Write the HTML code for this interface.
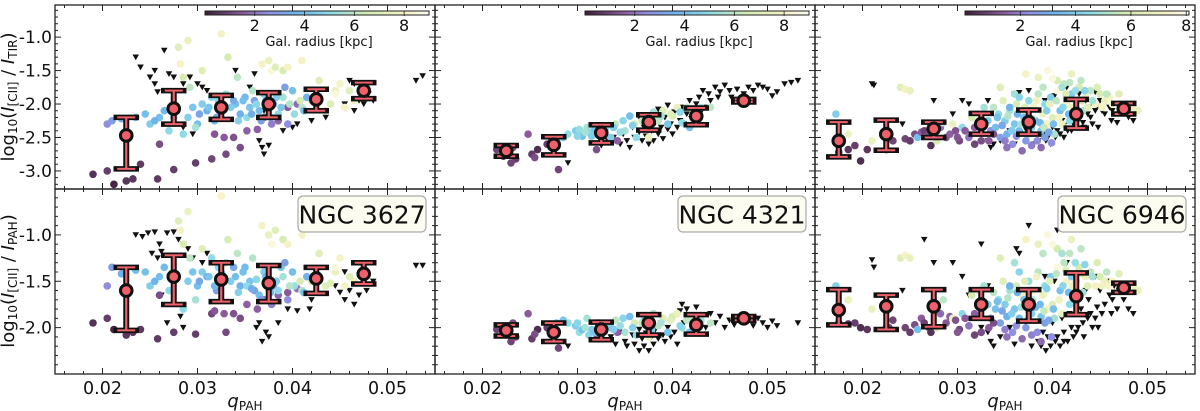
<!DOCTYPE html>
<html><head><meta charset="utf-8"><title>CII deficit vs qPAH</title>
<style>
html,body{margin:0;padding:0;background:#fff;}
svg{display:block;font-family:"DejaVu Sans","Liberation Sans",sans-serif;}
</style></head>
<body>
<svg id="chart" width="1200" height="411" viewBox="0 0 1200 411" xmlns="http://www.w3.org/2000/svg">
<defs>
<linearGradient id="cmap" x1="0" x2="1" y1="0" y2="0">
<stop offset="0" stop-color="#3b1e35"/><stop offset="0.17" stop-color="#8a5a9a"/><stop offset="0.28" stop-color="#8f8ee0"/><stop offset="0.4" stop-color="#6cb4ec"/><stop offset="0.56" stop-color="#8edbe8"/><stop offset="0.72" stop-color="#d6ecb2"/><stop offset="0.89" stop-color="#f5f2c6"/><stop offset="1" stop-color="#fcfbf2"/>
</linearGradient>
</defs>
</svg>
<script>
// ---------- data ----------
const binX=[0.0225,0.0275,0.0325,0.0375,0.0425,0.0475];
const binX3=[0.0175,0.0225,0.0275,0.0325,0.0375,0.0425,0.0475];
const yTicksTop=[-1.0,-1.5,-2.0,-2.5,-3.0];
const yTicksBot=[-1.0,-1.5,-2.0];
const xTicks=[0.02,0.03,0.04,0.05];
const cbTicks=[2,4,6,8];
const galaxies=["NGC 3627","NGC 4321","NGC 6946"];

// NGC 3627 dots: x, radius, y(TIR), y(PAH)
const g1x=[0.0190,0.0205,0.0212,0.0225,0.0232,0.0240,0.0258,0.0275,0.0260,0.0298,0.0315,0.0330,0.0328,0.0318,0.0345,0.0363,0.0370,0.0385,0.0395,0.0405,0.0205,0.0210,0.0220,0.0235,0.0245,0.0250,0.0260,0.0265,0.0270,0.0285,0.0290,0.0300,0.0305,0.0310,0.0315,0.0320,0.0330,0.0340,0.0345,0.0350,0.0355,0.0360,0.0365,0.0370,0.0380,0.0385,0.0390,0.0395,0.0400,0.0410,0.0420,0.0415,0.0435,0.0445,0.0460,0.0465,0.0290,0.0280,0.0285,0.0282,0.0305,0.0325,0.0332,0.0342,0.0368,0.0375,0.0378,0.0382,0.0390,0.0395,0.0410,0.0428,0.0450,0.0445,0.0455,0.0335,0.0352,0.0372,0.0388,0.0402,0.0392,0.0358,0.0322,0.0298,0.0292,
 0.0312,0.0318,0.0326,0.0338,0.0343,0.0348,0.0357,0.0362,0.0367,0.0374,0.0377,0.0383,0.0397,0.0408,0.0412,0.0425,0.0440,0.0302,0.0295,0.0275,0.0255,0.0338,0.0352,0.0378];
const g1r=[0.5,0.8,0.2,0.6,0.6,0.7,0.7,0.8,1.2,0.8,1.0,1.1,1.5,1.4,1.2,1.6,1.8,1.7,1.5,1.9,2.5,3.0,3.5,4.0,4.0,4.5,4.0,3.8,5.0,5.0,4.5,4.0,4.5,3.5,5.0,3.0,5.5,4.0,3.5,3.8,4.2,3.0,4.0,4.5,3.2,5.0,5.5,2.5,4.0,6.0,6.5,3.5,7.0,7.5,7.0,7.5,7.5,7.0,6.5,8.0,7.0,8.0,6.5,6.0,8.0,7.5,8.5,7.0,6.5,8.0,8.0,7.0,8.0,8.5,8.0,4.5,5.0,3.6,4.2,5.2,3.0,5.8,4.8,5.5,6.0,
 4.2,3.8,5.0,3.3,4.6,4.0,3.4,4.8,3.0,5.2,3.8,4.5,5.8,6.5,4.0,6.0,6.8,3.2,4.2,4.6,3.6,1.3,1.6,2.2];
const g1yT=[-3.05,-3.00,-3.20,-3.15,-3.12,-2.90,-3.12,-2.98,-2.60,-2.88,-2.82,-2.75,-2.50,-2.45,-2.65,-2.38,-2.20,-2.25,-2.05,-2.00,-2.30,-2.25,-2.22,-2.20,-2.15,-2.30,-2.20,-2.10,-2.40,-2.45,-2.20,-2.30,-2.00,-2.10,-1.90,-2.20,-1.85,-2.00,-2.15,-1.90,-2.05,-1.95,-2.10,-1.85,-2.00,-2.15,-1.90,-2.30,-1.80,-2.05,-1.95,-1.90,-2.10,-1.80,-1.80,-1.95,-1.05,-1.15,-1.60,-1.40,-1.50,-0.95,-1.30,-1.60,-1.40,-1.35,-1.50,-1.45,-1.50,-1.45,-1.35,-1.65,-1.70,-1.85,-2.05,-2.05,-2.20,-1.95,-2.05,-2.15,-1.75,-1.80,-1.95,-2.35,-1.75,
 -2.05,-2.25,-2.10,-1.95,-2.25,-1.95,-2.15,-2.00,-2.25,-1.95,-2.20,-1.90,-2.00,-1.95,-2.10,-1.90,-2.00,-2.15,-2.05,-2.20,-2.25,-2.50,-2.40,-2.30];
const g1yP=[-1.95,-1.90,-2.02,-2.08,-2.05,-2.02,-2.12,-2.05,-1.65,-2.07,-1.85,-2.05,-1.85,-1.82,-1.90,-1.80,-1.70,-1.65,-1.62,-1.58,-1.55,-1.35,-1.42,-1.38,-1.40,-1.55,-1.45,-1.35,-1.60,-1.80,-1.50,-1.55,-1.40,-1.45,-1.25,-1.60,-1.30,-1.45,-1.55,-1.35,-1.50,-1.60,-1.65,-1.40,-1.55,-1.60,-1.45,-1.70,-1.40,-1.60,-1.50,-1.45,-1.55,-1.40,-1.45,-1.50,-0.75,-0.85,-1.10,-0.95,-1.15,-0.58,-1.05,-1.20,-0.90,-1.00,-1.10,-0.95,-1.05,-1.10,-1.00,-1.20,-1.25,-1.35,-1.55,-1.50,-1.55,-1.45,-1.35,-1.55,-1.30,-1.25,-1.35,-1.70,-1.25,
 -1.45,-1.55,-1.42,-1.35,-1.62,-1.40,-1.58,-1.48,-1.70,-1.52,-1.62,-1.50,-1.55,-1.50,-1.62,-1.50,-1.52,-1.50,-1.40,-1.45,-1.50,-1.85,-1.75,-1.75];
const g1tTx=[0.0235,0.0240,0.0255,0.0255,0.0258,0.0250,0.0265,0.0270,0.0275,0.0285,0.0292,0.0300,0.0305,0.0310,0.0295,0.0285,0.0340,0.0355,0.0360,0.0370,0.0365,0.0368,0.0370,0.0375,0.0390,0.0400,0.0405,0.0420,0.0435,0.0425,0.0460,0.0465,0.0470,0.0480,0.0485,0.0475,0.0465,0.0455,0.0530,0.0537];
const g1tTy=[-1.30,-1.45,-1.50,-1.70,-1.82,-1.60,-1.20,-1.55,-1.60,-1.70,-1.60,-1.70,-1.75,-1.80,-2.45,-2.35,-1.50,-1.75,-1.55,-2.10,-2.55,-2.65,-2.75,-2.62,-2.40,-2.35,-2.30,-2.25,-2.20,-1.85,-1.65,-1.70,-1.95,-1.85,-1.95,-2.00,-2.10,-2.00,-1.65,-1.58];
const g1tPx=[0.0235,0.0242,0.0248,0.0255,0.0260,0.0262,0.0268,0.0275,0.0280,0.0285,0.0252,0.0258,0.0290,0.0295,0.0305,0.0310,0.0262,0.0282,0.0285,0.0268,0.0365,0.0362,0.0372,0.0375,0.0368,0.0385,0.0395,0.0405,0.0418,0.0420,0.0445,0.0450,0.0455,0.0460,0.0465,0.0470,0.0478,0.0485,0.0455,0.0530,0.0537];
const g1tPy=[-1.00,-1.02,-0.98,-0.97,-1.10,-1.18,-0.98,-0.97,-1.05,-1.10,-1.20,-1.25,-1.15,-1.25,-1.30,-1.20,-1.65,-1.88,-2.00,-1.95,-1.95,-2.00,-2.05,-2.10,-2.15,-1.95,-1.80,-1.82,-1.80,-1.70,-1.55,-1.62,-1.70,-1.60,-1.75,-1.65,-1.60,-1.50,-1.40,-1.33,-1.33];
const g1binT=[-2.47,-2.07,-2.05,-2.00,-1.93,-1.80];
const g1loT=[-2.97,-2.30,-2.23,-2.20,-2.10,-1.92];
const g1hiT=[-2.20,-1.80,-1.87,-1.83,-1.78,-1.68];
const g1binP=[-1.60,-1.45,-1.48,-1.52,-1.47,-1.42];
const g1loP=[-2.03,-1.75,-1.72,-1.72,-1.63,-1.53];
const g1hiP=[-1.35,-1.22,-1.30,-1.33,-1.35,-1.30];

// NGC 4321
const g2x=[0.0215,0.0222,0.0232,0.0235,0.0230,0.0248,0.0252,0.0258,0.0255,0.0268,0.0280,0.0278,0.0285,0.0290,0.0298,0.0302,0.0305,0.0310,0.0312,0.0315,0.0322,0.0320,0.0330,0.0335,0.0340,0.0342,0.0348,0.0350,0.0355,0.0360,0.0362,0.0370,0.0375,0.0380,0.0385,0.0390,0.0395,0.0400,0.0405,0.0410,0.0418,0.0422,0.0430,0.0440,0.0465,
 0.0300,0.0308,0.0318,0.0328,0.0338,0.0345,0.0358,0.0368,0.0378,0.0388,0.0398,0.0408,0.0415];
const g2r=[1.0,0.8,1.2,0.8,1.0,1.5,0.8,0.4,1.2,0.8,1.0,4.0,4.2,5.0,4.5,5.2,4.0,5.5,4.8,4.5,1.5,1.2,5.0,4.5,6.0,1.6,4.8,5.5,4.0,6.5,5.0,4.8,7.5,5.5,6.0,7.0,4.2,6.5,7.5,5.0,4.0,6.5,5.5,6.0,7.5,
 4.8,5.5,4.2,5.8,4.5,5.2,4.6,6.2,4.4,5.6,7.0,4.8,6.0];
const g2yT=[-2.68,-2.78,-2.65,-2.82,-2.88,-2.45,-2.75,-2.68,-2.80,-2.60,-2.98,-2.55,-2.50,-2.45,-2.40,-2.38,-2.48,-2.35,-2.42,-2.48,-2.38,-2.68,-2.35,-2.50,-2.30,-2.55,-2.25,-2.40,-2.18,-2.30,-2.50,-2.20,-2.50,-2.12,-2.25,-2.10,-2.30,-2.18,-2.05,-2.28,-2.35,-2.10,-2.05,-2.05,-1.95,
 -2.48,-2.42,-2.38,-2.40,-2.35,-2.42,-2.32,-2.25,-2.20,-2.18,-2.15,-2.12,-2.05];
const g2yP=[-2.02,-2.05,-1.95,-2.10,-2.15,-1.85,-2.12,-2.02,-2.07,-2.00,-2.22,-1.95,-1.92,-1.95,-1.98,-2.05,-2.02,-1.90,-2.08,-2.02,-1.95,-2.12,-1.98,-2.00,-1.92,-2.05,-1.90,-2.05,-1.88,-1.95,-2.08,-1.92,-2.10,-1.85,-1.98,-1.90,-2.05,-1.88,-1.85,-2.00,-2.05,-1.90,-1.92,-1.95,-1.90,
 -1.95,-2.00,-2.05,-1.95,-2.02,-1.98,-2.00,-1.95,-2.02,-1.95,-1.92,-1.98,-1.92];
const g2tTx=[0.0290,0.0325,0.0332,0.0338,0.0345,0.0348,0.0352,0.0355,0.0358,0.0360,0.0365,0.0368,0.0370,0.0372,0.0375,0.0378,0.0380,0.0382,0.0385,0.0388,0.0390,0.0392,0.0395,0.0398,0.0400,0.0402,0.0405,0.0408,0.0410,0.0412,0.0415,0.0418,0.0420,0.0425,0.0428,0.0430,0.0432,0.0435,0.0438,0.0440,0.0445,0.0448,0.0450,0.0455,0.0460,0.0462,0.0468,0.0475,0.0480,0.0485,0.0490,0.0495,0.0500,0.0505,0.0510,0.0518,0.0525,0.0532,0.0385,0.0395,0.0365,0.0375];
const g2tTy=[-2.88,-2.62,-2.55,-2.50,-2.60,-2.45,-2.55,-2.65,-2.35,-2.50,-2.42,-2.55,-2.35,-2.48,-2.30,-2.40,-2.55,-2.28,-2.45,-2.35,-2.52,-2.20,-2.38,-2.30,-2.45,-2.12,-2.35,-2.25,-2.05,-2.30,-2.15,-1.95,-2.22,-2.00,-1.90,-2.12,-1.80,-2.05,-1.85,-1.95,-1.75,-1.90,-1.82,-1.72,-1.80,-1.90,-1.78,-1.85,-1.75,-1.80,-1.72,-1.75,-1.78,-1.88,-1.82,-1.70,-1.68,-1.65,-2.08,-2.02,-2.20,-2.60];
const g2tPx=[0.0290,0.0325,0.0335,0.0340,0.0345,0.0350,0.0352,0.0358,0.0360,0.0365,0.0368,0.0370,0.0372,0.0375,0.0378,0.0380,0.0382,0.0385,0.0388,0.0390,0.0392,0.0395,0.0398,0.0400,0.0402,0.0405,0.0408,0.0410,0.0412,0.0415,0.0418,0.0420,0.0425,0.0430,0.0435,0.0440,0.0445,0.0450,0.0455,0.0460,0.0465,0.0480,0.0485,0.0490,0.0495,0.0500,0.0505,0.0510,0.0532,0.0375,0.0365];
const g2tPy=[-2.20,-2.12,-2.10,-2.18,-2.05,-2.15,-2.20,-2.08,-2.18,-2.02,-2.12,-2.20,-2.06,-1.98,-2.10,-2.18,-2.02,-2.12,-1.95,-2.08,-2.15,-2.00,-2.10,-1.92,-2.05,-2.18,-1.82,-1.75,-1.95,-1.80,-2.05,-1.88,-1.78,-1.90,-2.00,-1.85,-1.95,-1.88,-2.00,-1.92,-1.97,-1.92,-1.98,-1.90,-1.95,-2.00,-1.93,-1.98,-1.95,-2.25,-2.25];
const g2binT=[-2.70,-2.61,-2.43,-2.27,-2.18,-1.95];
const g2loT=[-2.78,-2.76,-2.58,-2.39,-2.31,-1.97];
const g2hiT=[-2.62,-2.49,-2.31,-2.16,-2.06,-1.93];
const g2binP=[-2.03,-2.05,-2.02,-1.95,-1.97,-1.90];
const g2loP=[-2.09,-2.15,-2.13,-2.08,-2.07,-1.92];
const g2hiP=[-1.97,-1.95,-1.94,-1.86,-1.86,-1.88];

// NGC 6946
const g3x=[0.0172,0.0185,0.0175,0.0185,0.0192,0.0198,0.0205,0.0210,0.0225,0.0228,0.0232,0.0240,0.0245,0.0250,0.0245,0.0250,0.0255,0.0258,0.0262,0.0265,0.0270,0.0272,0.0275,0.0278,0.0282,0.0285,0.0288,0.0292,0.0295,0.0298,0.0302,0.0305,0.0308,0.0312,0.0315,0.0318,0.0322,0.0325,0.0328,0.0332,0.0335,0.0338,0.0340,0.0343,0.0345,0.0348,0.0350,0.0352,0.0355,0.0358,0.0360,0.0362,0.0365,0.0368,0.0370,0.0372,0.0375,0.0378,0.0380,0.0382,0.0385,0.0388,0.0390,0.0392,0.0395,0.0398,0.0400,0.0402,0.0405,0.0408,0.0410,0.0412,0.0415,0.0418,0.0420,0.0425,0.0428,0.0432,0.0435,0.0440,0.0445,0.0450,0.0455,0.0460,0.0485,0.0372,0.0385,0.0395,0.0405,0.0410,0.0418,0.0360,0.0345,0.0355,0.0365,0.0375,0.0392,0.0378,0.0368,0.0352,
 0.0342,0.0347,0.0353,0.0357,0.0363,0.0367,0.0371,0.0374,0.0379,0.0383,0.0387,0.0391,0.0394,0.0397,0.0401,0.0404,0.0407,0.0411,0.0414,0.0417,0.0421,0.0424,0.0427,0.0431,0.0434,0.0437,0.0442,0.0447,0.0452,0.0457,0.0463,0.0470,0.0478,0.0490,0.0333,0.0338,0.0318,0.0300,0.0362,0.0384,0.0396,0.0350,0.0388,0.0399,0.0400,0.0420,0.0430,0.0390];
const g3r=[4.5,7.5,0.5,0.6,0.8,0.4,0.6,7.5,0.5,1.2,1.0,7.0,8.0,7.5,1.0,0.8,1.2,4.0,1.5,0.9,1.3,0.5,4.5,6.5,1.8,6.0,1.4,1.6,7.5,1.3,1.1,5.0,1.5,2.0,6.5,1.6,7.5,1.2,5.5,4.5,2.5,6.0,4.0,5.0,3.0,7.0,4.5,3.5,5.5,2.5,4.2,6.5,3.8,7.5,4.0,2.8,5.0,4.5,8.0,3.5,6.0,4.2,7.5,5.0,8.0,4.5,7.0,5.5,8.5,4.0,7.5,6.0,8.0,5.0,4.5,7.0,6.5,5.5,7.5,6.0,8.0,6.5,7.5,8.0,7.5,8.0,7.5,8.5,6.5,5.5,6.0,5.5,7.0,3.5,4.8,3.2,3.0,2.2,1.8,2.0,
 4.0,3.2,5.8,4.5,3.5,5.5,6.8,4.2,5.8,7.8,3.8,6.2,4.6,7.2,4.0,6.0,7.8,4.8,6.8,3.8,7.5,5.2,8.0,6.5,4.8,7.0,5.5,6.8,7.8,6.0,8.0,7.0,8.0,7.5,1.5,1.2,1.0,1.4,2.6,2.4,3.2,2.2,1.8,2.5,8.5,7.5,6.0,6.0];
const g3yT=[-2.15,-2.45,-2.72,-2.68,-2.62,-2.85,-2.68,-2.55,-2.68,-2.45,-2.55,-1.75,-1.78,-1.80,-2.52,-2.55,-2.45,-2.50,-2.42,-2.40,-2.45,-2.62,-2.38,-2.55,-2.35,-2.28,-2.50,-2.45,-2.30,-2.40,-2.55,-2.35,-2.40,-2.50,-2.20,-2.35,-2.15,-2.55,-2.05,-2.25,-2.40,-2.05,-2.35,-2.15,-2.50,-1.95,-2.25,-2.45,-2.10,-2.60,-2.30,-2.00,-2.40,-2.15,-2.20,-2.55,-1.95,-2.35,-2.05,-2.25,-1.85,-2.40,-2.15,-2.00,-2.30,-1.90,-2.20,-2.45,-1.80,-2.10,-2.30,-1.70,-2.00,-2.25,-1.85,-1.95,-1.75,-2.10,-1.90,-1.80,-2.00,-1.85,-1.95,-1.90,-2.05,-1.55,-1.60,-1.50,-1.65,-1.75,-1.68,-1.85,-1.75,-2.05,-1.90,-2.10,-2.50,-2.62,-2.70,-2.65,
 -2.20,-2.32,-2.18,-2.40,-2.15,-2.30,-2.05,-2.45,-2.22,-1.95,-2.28,-2.35,-2.10,-2.00,-2.30,-1.95,-2.20,-2.05,-1.85,-2.15,-2.05,-1.80,-2.15,-1.95,-1.80,-2.05,-1.95,-1.75,-2.05,-1.85,-2.00,-1.85,-2.00,-2.10,-2.55,-2.45,-2.60,-2.50,-2.48,-2.55,-2.42,-2.55,-2.65,-2.58,-1.62,-1.55,-1.65,-1.75];
const g3yP=[-1.55,-1.70,-1.95,-1.96,-1.95,-2.00,-2.02,-1.80,-2.00,-2.00,-1.92,-1.25,-1.22,-1.25,-2.00,-2.05,-1.97,-2.02,-1.90,-1.95,-2.00,-2.05,-1.75,-2.00,-1.85,-1.70,-1.95,-1.88,-1.90,-1.92,-2.02,-1.85,-1.90,-1.98,-1.65,-1.85,-1.60,-2.05,-1.55,-1.75,-1.90,-1.62,-1.80,-1.70,-1.95,-1.50,-1.75,-1.88,-1.60,-2.05,-1.80,-1.55,-1.90,-1.65,-1.70,-2.00,-1.50,-1.85,-1.60,-1.78,-1.40,-1.88,-1.65,-1.55,-1.80,-1.45,-1.75,-1.90,-1.35,-1.60,-1.85,-1.30,-1.50,-1.75,-1.45,-1.50,-1.35,-1.62,-1.45,-1.40,-1.55,-1.45,-1.50,-1.55,-1.55,-1.05,-1.10,-1.00,-1.15,-1.20,-1.20,-1.30,-1.25,-1.55,-1.40,-1.60,-1.95,-2.08,-2.12,-2.10,
 -1.72,-1.82,-1.68,-1.85,-1.62,-1.78,-1.50,-1.92,-1.70,-1.45,-1.75,-1.82,-1.58,-1.50,-1.80,-1.42,-1.70,-1.55,-1.38,-1.62,-1.55,-1.30,-1.65,-1.42,-1.32,-1.55,-1.45,-1.30,-1.55,-1.40,-1.50,-1.42,-1.55,-1.60,-2.00,-1.95,-2.08,-2.05,-1.98,-2.05,-1.92,-2.02,-2.15,-2.10,-1.10,-1.05,-1.15,-1.20];
const g3tTx=[0.0210,0.0212,0.0242,0.0275,0.0295,0.0305,0.0312,0.0325,0.0332,0.0335,0.0345,0.0355,0.0360,0.0365,0.0375,0.0380,0.0385,0.0390,0.0395,0.0400,0.0405,0.0410,0.0412,0.0418,0.0420,0.0425,0.0430,0.0432,0.0438,0.0440,0.0445,0.0450,0.0455,0.0460,0.0465,0.0475,0.0480,0.0485,0.0468,0.0392,0.0402,0.0415,0.0428,0.0435,0.0448,0.0398,0.0412,0.0378,0.0372,0.0332,0.0445,0.0458,0.0462,
 0.0388,0.0393,0.0403,0.0408,0.0416,0.0422,0.0427,0.0433,0.0437,0.0442,0.0447,0.0452,0.0463,0.0470,0.0338,0.0360];
const g3tTy=[-1.70,-1.72,-2.30,-1.95,-2.15,-1.95,-2.00,-2.45,-2.55,-2.65,-2.55,-2.40,-1.85,-1.83,-1.80,-2.60,-2.55,-2.45,-2.50,-2.35,-2.40,-2.25,-2.32,-2.20,-2.40,-2.32,-2.15,-2.28,-2.05,-2.20,-2.10,-1.95,-2.15,-2.05,-2.00,-2.10,-2.20,-2.25,-2.28,-1.95,-1.88,-1.75,-1.85,-1.95,-2.35,-2.60,-2.50,-2.45,-2.38,-1.95,-1.82,-1.88,-2.25,
 -2.65,-2.55,-2.50,-2.45,-2.40,-2.30,-2.25,-2.35,-2.15,-2.30,-2.05,-2.10,-2.10,-2.00,-2.60,-2.60];
const g3tPx=[0.0210,0.0212,0.0242,0.0275,0.0295,0.0305,0.0312,0.0325,0.0332,0.0335,0.0345,0.0355,0.0362,0.0365,0.0375,0.0385,0.0390,0.0395,0.0400,0.0405,0.0410,0.0412,0.0418,0.0420,0.0425,0.0430,0.0432,0.0438,0.0440,0.0445,0.0450,0.0455,0.0460,0.0465,0.0475,0.0480,0.0485,0.0468,0.0392,0.0402,0.0415,0.0428,0.0435,0.0448,0.0398,0.0412,0.0378,0.0372,0.0332,0.0445,0.0458,0.0462,0.0325,0.0265,0.0405,
 0.0388,0.0393,0.0403,0.0408,0.0416,0.0422,0.0427,0.0433,0.0437,0.0442,0.0447,0.0452,0.0463,0.0470,0.0338,0.0360];
const g3tPy=[-1.27,-1.35,-1.60,-1.30,-1.30,-1.45,-1.65,-2.00,-2.05,-2.15,-2.10,-2.00,-1.15,-1.20,-0.90,-2.15,-2.05,-2.10,-1.95,-2.10,-1.90,-2.05,-1.85,-2.00,-2.05,-1.80,-1.95,-1.70,-1.85,-1.90,-1.60,-1.75,-1.65,-1.55,-1.70,-1.80,-1.85,-1.80,-1.45,-1.50,-1.30,-1.40,-1.60,-2.00,-2.20,-2.15,-2.20,-1.95,-1.55,-1.45,-1.50,-1.85,-1.10,-1.05,-0.95,
 -2.20,-2.25,-2.15,-2.20,-2.15,-2.10,-2.00,-2.10,-1.90,-2.00,-1.78,-1.85,-1.70,-1.60,-2.20,-2.18];
const g3binT=[-2.55,-2.45,-2.37,-2.30,-2.27,-2.15,-2.07];
const g3loT=[-2.79,-2.69,-2.50,-2.45,-2.45,-2.36,-2.15];
const g3hiT=[-2.27,-2.24,-2.27,-2.14,-2.09,-1.93,-1.99];
const g3binP=[-1.81,-1.77,-1.77,-1.75,-1.75,-1.66,-1.57];
const g3loP=[-1.97,-2.02,-1.99,-1.90,-1.93,-1.86,-1.62];
const g3hiP=[-1.59,-1.65,-1.59,-1.59,-1.59,-1.41,-1.52];

// ---------- drawing ----------
const NS="http://www.w3.org/2000/svg";
const svg=document.getElementById('chart');
function mk(tag,attrs,parent){const e=document.createElementNS(NS,tag);for(const k in attrs)e.setAttribute(k,attrs[k]);(parent||svg).appendChild(e);return e;}
const cstops=[[0,[59,30,53]],[1.5,[138,90,154]],[2.5,[143,142,224]],[3.6,[108,180,236]],[5.0,[142,219,232]],[6.5,[214,236,178]],[8.0,[245,242,198]],[9.0,[252,251,242]]];
function cmap(v){if(v<=0)return 'rgb('+cstops[0][1]+')';for(let i=1;i<cstops.length;i++){if(v<=cstops[i][0]){const a=cstops[i-1],b=cstops[i];const t=(v-a[0])/(b[0]-a[0]);const c=a[1].map((x,j)=>Math.round(x+(b[1][j]-x)*t));return 'rgb('+c+')';}}return 'rgb('+cstops[cstops.length-1][1]+')';}

const PX=[55,435,815], PW=380;
const XMIN=0.015, XMAX=0.055;
const rows=[{top:5,bot:189,ymin:-3.27,ymax:-0.52,ticks:yTicksTop},{top:189,bot:374,ymin:-2.5,ymax:-0.505,ticks:yTicksBot}];
const panelData=[
 [{x:g1x,r:g1r,y:g1yT,tx:g1tTx,ty:g1tTy,bx:binX,b:g1binT,lo:g1loT,hi:g1hiT},{x:g1x,r:g1r,y:g1yP,tx:g1tPx,ty:g1tPy,bx:binX,b:g1binP,lo:g1loP,hi:g1hiP}],
 [{x:g2x,r:g2r,y:g2yT,tx:g2tTx,ty:g2tTy,bx:binX,b:g2binT,lo:g2loT,hi:g2hiT},{x:g2x,r:g2r,y:g2yP,tx:g2tPx,ty:g2tPy,bx:binX,b:g2binP,lo:g2loP,hi:g2hiP}],
 [{x:g3x,r:g3r,y:g3yT,tx:g3tTx,ty:g3tTy,bx:binX3,b:g3binT,lo:g3loT,hi:g3hiT},{x:g3x,r:g3r,y:g3yP,tx:g3tPx,ty:g3tPy,bx:binX3,b:g3binP,lo:g3loP,hi:g3hiP}]
];

for(let c=0;c<3;c++){
 const left=PX[c];
 const sx=v=>left+(v-XMIN)/(XMAX-XMIN)*PW;
 for(let r=0;r<2;r++){
  const R=rows[r], d=panelData[c][r];
  const sy=v=>R.bot-(v-R.ymin)/(R.ymax-R.ymin)*(R.bot-R.top);
  const g=mk('g',{});
  
  
  const clipId='clip'+c+r;
  const cp=mk('clipPath',{id:clipId},g);mk('rect',{x:left,y:R.top,width:PW,height:R.bot-R.top},cp);
  const plot=mk('g',{'clip-path':'url(#'+clipId+')'},g);
  for(let i=0;i<d.tx.length;i++){
   const X=sx(d.tx[i]),Y=sy(d.ty[i]);
   const t=mk('path',{d:`M${X-3.3},${Y-2.7}L${X+3.3},${Y-2.7}L${X},${Y+3.1}Z`,fill:'#111'},plot);
   
   
  }
  for(let i=0;i<d.x.length;i++){
   const dot=mk('circle',{cx:sx(d.x[i]),cy:sy(d.y[i]),r:3.8,fill:cmap(d.r[i])},plot);
   
   
  }
  for(let i=0;i<d.bx.length;i++){
   const X=sx(d.bx[i]),Y=sy(d.b[i]),Yl=sy(d.lo[i]),Yh=sy(d.hi[i]);
   const eb=mk('g',{},plot);
   
   
   mk('line',{x1:X,x2:X,y1:Yl,y2:Yh,stroke:'#111','stroke-width':6},eb);
   mk('line',{x1:X-10,x2:X+10,y1:Yl,y2:Yl,stroke:'#111','stroke-width':5.5,'stroke-linecap':'square'},eb);
   mk('line',{x1:X-10,x2:X+10,y1:Yh,y2:Yh,stroke:'#111','stroke-width':5.5,'stroke-linecap':'square'},eb);
   mk('line',{x1:X,x2:X,y1:Yl,y2:Yh,stroke:'#f0606b','stroke-width':2.2},eb);
   mk('line',{x1:X-9,x2:X+9,y1:Yl,y2:Yl,stroke:'#f0606b','stroke-width':2},eb);
   mk('line',{x1:X-9,x2:X+9,y1:Yh,y2:Yh,stroke:'#f0606b','stroke-width':2},eb);
   mk('circle',{cx:X,cy:Y,r:5.8,fill:'#f0606b',stroke:'#111','stroke-width':3},eb);
  }
  mk('rect',{x:left,y:R.top,width:PW,height:R.bot-R.top,fill:'none',stroke:'#222','stroke-width':1.3},g);
  for(let v=0.016;v<0.0551;v+=0.002){
   const X=sx(v);const major=Math.abs(Math.round(v*100)-v*100)<1e-6;const L=major?6:3;
   mk('line',{x1:X,x2:X,y1:R.bot,y2:R.bot-L,stroke:'#222','stroke-width':1},g);
   mk('line',{x1:X,x2:X,y1:R.top,y2:R.top+L,stroke:'#222','stroke-width':1},g);
  }
  for(let k=Math.ceil(R.ymin*10);k<=Math.floor(R.ymax*10);k++){
   const Y=sy(k/10);const L=(k%5===0)?6:3;
   mk('line',{x1:left,x2:left+L,y1:Y,y2:Y,stroke:'#222','stroke-width':1},g);
   mk('line',{x1:left+PW,x2:left+PW-L,y1:Y,y2:Y,stroke:'#222','stroke-width':1},g);
  }
  if(c===0){
   for(const v of R.ticks){
    const t=mk('text',{x:left-3,y:sy(v)+6,'text-anchor':'end','font-size':17,fill:'#111'},g);
    t.textContent=v.toFixed(1);
    
    
   }
  }
  if(r===1){
   for(const v of xTicks){
    const t=mk('text',{x:sx(v),y:394,'text-anchor':'middle','font-size':17.5,fill:'#111'},g);
    t.textContent=v.toFixed(2);
    
    
   }
   const bx=mk('g',{},g);
   
   
   mk('rect',{x:left+PW-137,y:196,width:128,height:36,rx:5,fill:'#fdfcf1',stroke:'#aaa','stroke-width':1.2},bx);
   const tt=mk('text',{x:left+PW-73,y:223.5,'text-anchor':'middle','font-size':25,fill:'#111'},bx);
   tt.textContent=galaxies[c];
  } else {
   const cb=mk('g',{},g);
   
   
   const c0=left+PW-230, cw=224, vmax=(c===2)?8.1:9;
   mk('rect',{x:c0,y:11,width:cw,height:4,fill:'url(#cmap)',stroke:'#222','stroke-width':1},cb);
   for(const v of cbTicks){
    const X=c0+v/vmax*cw;
    mk('line',{x1:X,x2:X,y1:11,y2:16,stroke:'#222','stroke-width':0.8},cb);
    const t=mk('text',{x:X,y:31,'text-anchor':'middle','font-size':16,fill:'#111'},cb);
    t.textContent=v;
   }
   const lt=mk('text',{x:c0+cw/2+2,y:46,'text-anchor':'middle','font-size':13,fill:'#111'},cb);
   lt.textContent='Gal. radius [kpc]';
  }
 }
 const xl=mk('text',{x:left+PW/2,y:407,'text-anchor':'middle','font-size':18,fill:'#111'});
 
 
 xl.innerHTML='<tspan font-style="italic">q</tspan><tspan font-size="12" dy="3">PAH</tspan>';
}
const yl1=mk('text',{transform:'translate(14,97) rotate(-90)','text-anchor':'middle','font-size':18,fill:'#111'});


yl1.innerHTML='log<tspan font-size="12" dy="3">10</tspan><tspan dy="-3">(</tspan><tspan font-style="italic">I</tspan><tspan font-size="12" dy="3">[CII]</tspan><tspan dy="-3"> / </tspan><tspan font-style="italic">I</tspan><tspan font-size="12" dy="3">TIR</tspan><tspan dy="-3">)</tspan>';
const yl2=mk('text',{transform:'translate(14,281) rotate(-90)','text-anchor':'middle','font-size':18,fill:'#111'});


yl2.innerHTML='log<tspan font-size="12" dy="3">10</tspan><tspan dy="-3">(</tspan><tspan font-style="italic">I</tspan><tspan font-size="12" dy="3">[CII]</tspan><tspan dy="-3"> / </tspan><tspan font-style="italic">I</tspan><tspan font-size="12" dy="3">PAH</tspan><tspan dy="-3">)</tspan>';
</script>
</body></html>
